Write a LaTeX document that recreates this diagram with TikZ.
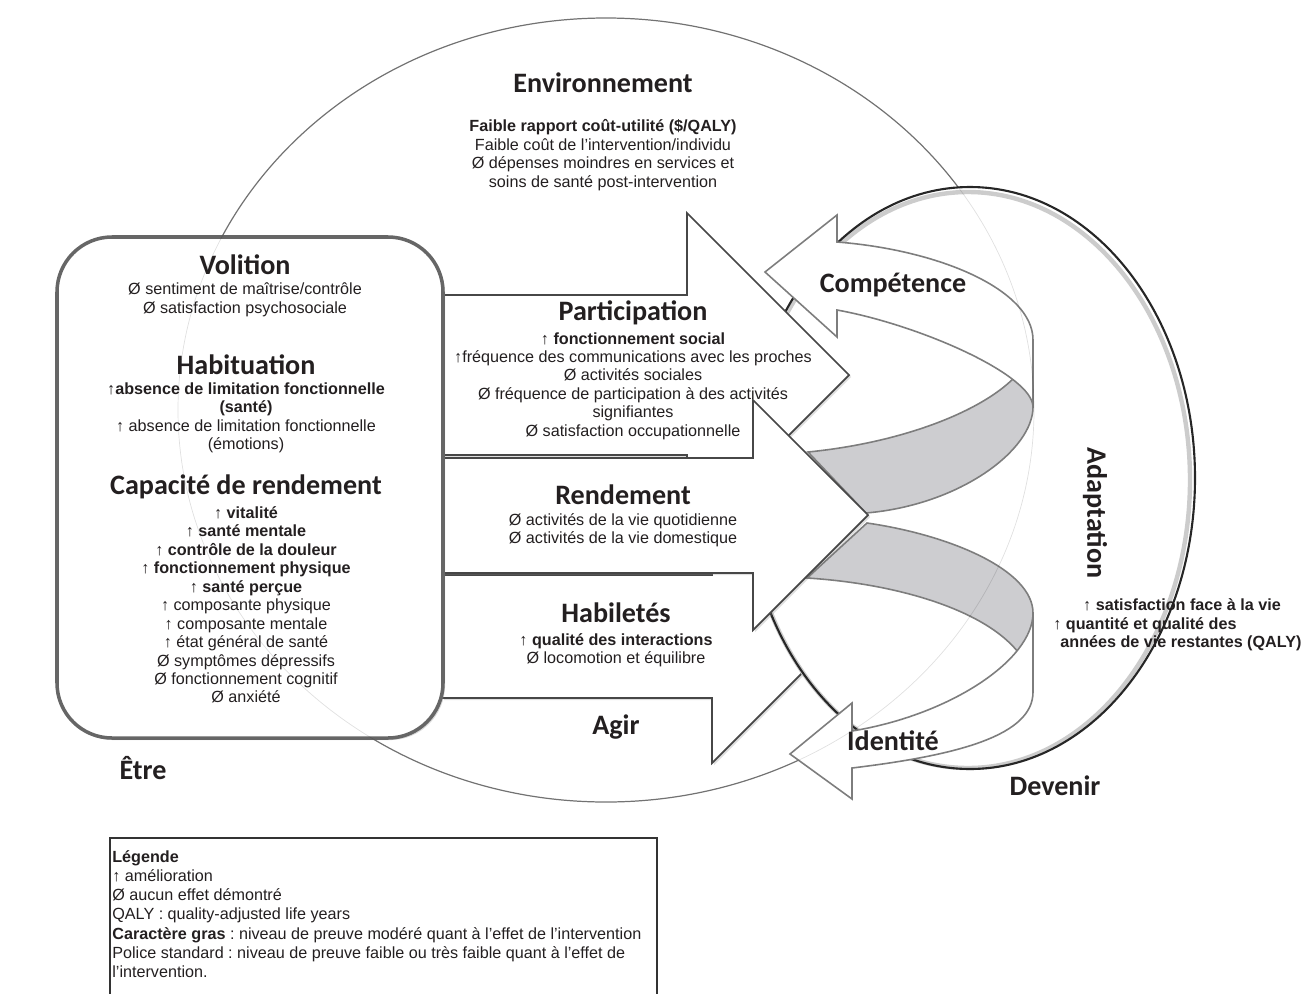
\documentclass[tikz,border=0pt]{standalone}
\usepackage{fontspec}
\setmainfont{Liberation Sans}
\newfontfamily\headfont{Carlito}
\usepackage{tikz}
\usetikzlibrary{shadows}
\frenchspacing
\definecolor{ribbonGray}{RGB}{205,205,208}
\definecolor{rimGray}{RGB}{125,125,125}
\definecolor{inkDark}{RGB}{35,31,32}

\begin{document}
\begin{tikzpicture}[x=0.02cm, y=-0.02cm,
  every node/.style={text=inkDark, inner sep=0pt},
  headtxt/.style={font=\headfont\bfseries\fontsize{16}{18}\selectfont},
  bodytxt/.style={font=\fontsize{9.2}{10.5}\selectfont, align=center},
  bigarrow/.style={fill=white, draw=black!72, line width=1pt,
    drop shadow={shadow xshift=1.2pt, shadow yshift=-1.2pt, opacity=0.25}},
  ribbonfront/.style={fill=white, draw=rimGray, line width=0.9pt},
  ribbonback/.style={fill=ribbonGray, draw=rimGray, line width=0.9pt}]
\useasboundingbox (0,0) rectangle (1312,994);

\draw[black!50, line width=0.7pt] (606,410) ellipse [x radius=428, y radius=392];

\draw[bigarrow] (442,575) -- (712,575) -- (712,509) -- (839,636) -- (712,763) -- (712,698) -- (442,698) -- cycle;

\fill[white] (970,478) ellipse [x radius=225, y radius=291];
\draw[gray!40, line width=2.5pt] (968,480) ellipse [x radius=222, y radius=288];
\draw[black!85, line width=1.2pt] (970,478) ellipse [x radius=225, y radius=291];

\draw[ribbonback] (1033,340) .. controls (1033,390) and (930,440) .. (808,452) -- (866,513)
  .. controls (960,505) and (1033,450) .. (1033,407) -- cycle;
\draw[ribbonback] (867,523) .. controls (950,535) and (1033,570) .. (1033,613) -- (1033,692)
  .. controls (1033,625) and (920,585) .. (807,578) -- cycle;

\draw[ribbonfront] (837,242) .. controls (940,250) and (1033,290) .. (1033,340) -- (1033,407)
  .. controls (1033,375) and (920,325) .. (837,310) -- (837,337) -- (765,272) -- (837,215) -- cycle;
\draw[ribbonfront] (1033,613) .. controls (1033,660) and (950,715) .. (852,731) -- (852,703)
  -- (790,754) -- (852,799) -- (852,768) .. controls (960,755) and (1033,735) .. (1033,692) -- cycle;

\draw[bigarrow] (442,295) -- (687,295) -- (687,213) -- (849,375) -- (687,537) -- (687,455) -- (442,455) -- cycle;
\draw[bigarrow] (442,458) -- (753,458) -- (753,400) -- (868,515) -- (753,630) -- (753,573) -- (442,573) -- cycle;

\draw[fill=white, draw=black!60, line width=2pt, rounded corners=1.1cm,
  drop shadow={shadow xshift=1.2pt, shadow yshift=-1.2pt, opacity=0.3}] (57,237) rectangle (443,738);

\draw[black, opacity=0.12, line width=0.4pt] (606,410) ellipse [x radius=428, y radius=392];

\node[headtxt] (env) at (603,83) {Environnement};
\node[bodytxt] (envtxt) at (603,155) {\textbf{Faible rapport coût-utilité (\$/QALY)}\\
  Faible coût de l’intervention/individu\\
  Ø dépenses moindres en services et\\
  soins de santé post-intervention};

\node[headtxt] (volition) at (245,265) {Volition};
\node[bodytxt] (volitiontxt) at (245,300) {Ø sentiment de maîtrise/contrôle\\Ø satisfaction psychosociale};
\node[headtxt] (habituation) at (246,365) {Habituation};
\node[bodytxt] (habituationtxt) at (246,418) {↑\textbf{absence de limitation fonctionnelle}\\
  \textbf{(santé)}\\
  ↑ absence de limitation fonctionnelle\\
  (émotions)};
\node[headtxt] (capacite) at (246,487) {Capacité de rendement};
\node[bodytxt] (capacitetxt) at (246,605) {↑ \textbf{vitalité}\\
  ↑ \textbf{santé mentale}\\
  ↑ \textbf{contrôle de la douleur}\\
  ↑ \textbf{fonctionnement physique}\\
  ↑ \textbf{santé perçue}\\
  ↑ composante physique\\
  ↑ composante mentale\\
  ↑ état général de santé\\
  Ø symptômes dépressifs\\
  Ø fonctionnement cognitif\\
  Ø anxiété};
\node[headtxt] (etre) at (143,768) {Être};

\node[headtxt] (participation) at (633,313) {Participation};
\node[bodytxt] (participationtxt) at (633,386) {↑ \textbf{fonctionnement social}\\
  ↑fréquence des communications avec les proches\\
  Ø activités sociales\\
  Ø fréquence de participation à des activités\\
  signifiantes\\
  Ø satisfaction occupationnelle};
\node[headtxt] (rendement) at (623,495) {Rendement};
\node[bodytxt] (rendementtxt) at (623,530) {Ø activités de la vie quotidienne\\Ø activités de la vie domestique};
\node[headtxt] (habiletes) at (616,613) {Habiletés};
\node[bodytxt] (habiletestxt) at (616,650) {↑ \textbf{qualité des interactions}\\Ø locomotion et équilibre};
\node[headtxt] (agir) at (616,727) {Agir};

\node[headtxt] (competence) at (893,285) {Compétence};
\node[headtxt] (identite) at (893,741) {Identité};
\node[headtxt] (devenir) at (1055,786) {Devenir};
\node[headtxt, rotate=-90] (adaptation) at (1095,513) {Adaptation};
\node[bodytxt, align=left, anchor=west, font=\bfseries\fontsize{9.2}{10.5}\selectfont] (adaptationtxt) at (1053,625)
  {\hspace*{17pt}↑ satisfaction face à la vie\\
  ↑ quantité et qualité des\\
  \hspace*{4pt}années de vie restantes (QALY)};

\draw[black!80, line width=0.6pt] (110,1000) -- (110,838) -- (657,838) -- (657,1000);
\node[bodytxt, align=left, anchor=west, font=\fontsize{9.2}{10.9}\selectfont] (legende) at (112,914)
  {\textbf{Légende}\\
  ↑ amélioration\\
  Ø aucun effet démontré\\
  QALY : quality-adjusted life years\\
  \textbf{Caractère gras} : niveau de preuve modéré quant à l’effet de l’intervention\\
  Police standard : niveau de preuve faible ou très faible quant à l’effet de\\
  l’intervention.};
\end{tikzpicture}
\end{document}
